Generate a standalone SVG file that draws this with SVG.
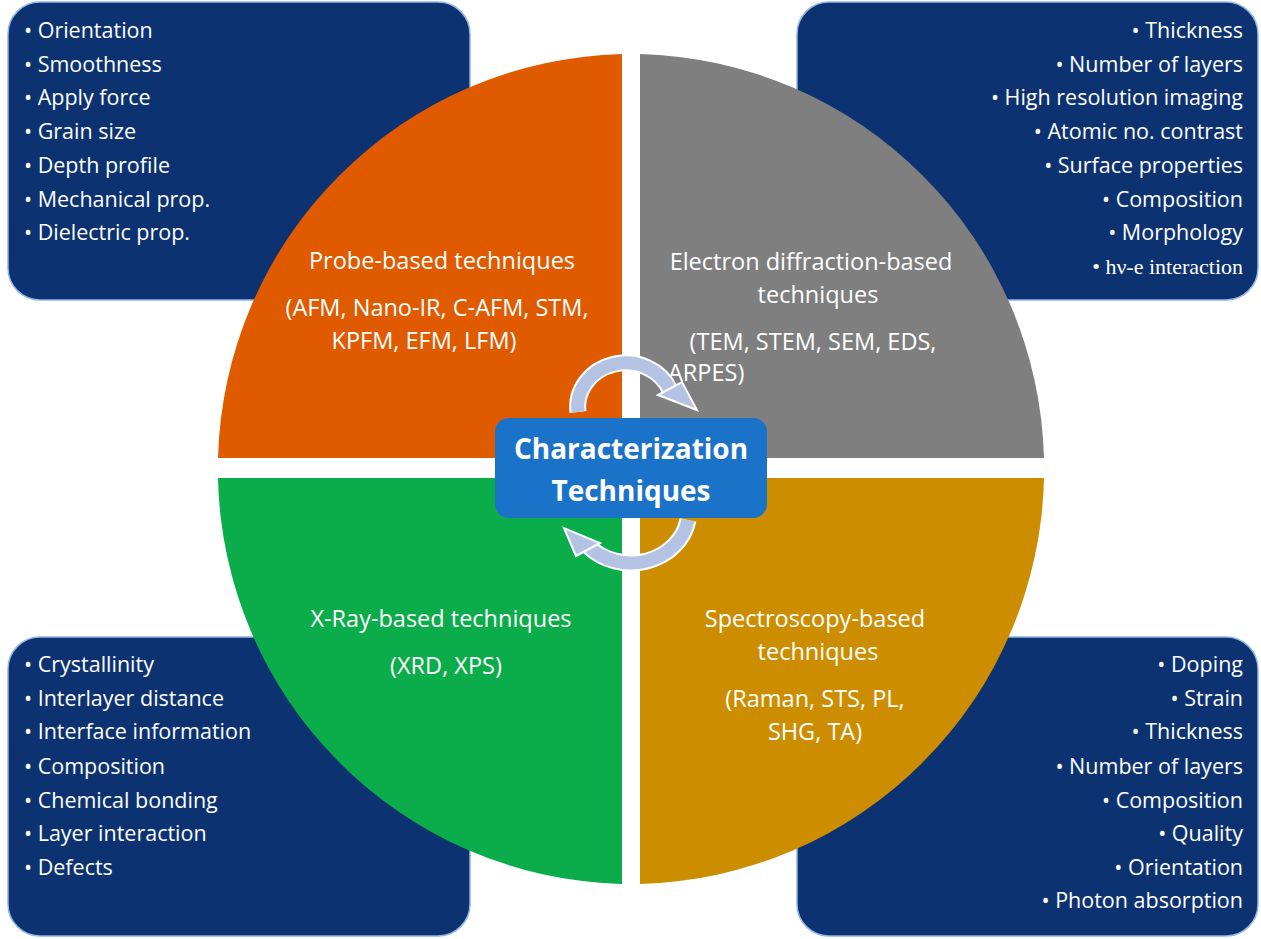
<svg xmlns="http://www.w3.org/2000/svg" width="1261" height="939" viewBox="0 0 1261 939">
<style>
.box{fill:#0d3272;stroke:#8fb4e6;stroke-width:1.5}
.bt{font-family:"Open Sans","Liberation Sans",sans-serif;font-size:21.5px;fill:#fff}
.qt{font-family:"Open Sans","Liberation Sans",sans-serif;font-size:23.5px;fill:#fff;text-anchor:middle}
.arc{fill:none;stroke:#b4c3e3;stroke-width:13}
.arco{fill:none;stroke:#fff;stroke-width:17}
.head{fill:#b4c3e3;stroke:#fff;stroke-width:2}
</style>
<rect width="1261" height="939" fill="#fff"/>
<g id="box-tl"><rect class="box" x="8" y="2" width="462" height="298" rx="32"/>
<text class="bt" x="24" y="38">• Orientation</text><text class="bt" x="24" y="72">• Smoothness</text><text class="bt" x="24" y="105">• Apply force</text><text class="bt" x="24" y="139">• Grain size</text><text class="bt" x="24" y="173">• Depth profile</text><text class="bt" x="24" y="207">• Mechanical prop.</text><text class="bt" x="24" y="240">• Dielectric prop.</text></g>
<g id="box-tr"><rect class="box" x="797" y="2" width="461" height="298" rx="32"/>
<g text-anchor="end"><text class="bt" x="1243" y="38">• Thickness</text><text class="bt" x="1243" y="72">• Number of layers</text><text class="bt" x="1243" y="105">• High resolution imaging</text><text class="bt" x="1243" y="139">• Atomic no. contrast</text><text class="bt" x="1243" y="173">• Surface properties</text><text class="bt" x="1243" y="207">• Composition</text><text class="bt" x="1243" y="240">• Morphology</text><text class="bt" x="1243" y="274" style="font-family:'Liberation Serif',serif;font-size:22px">• hν-e interaction</text></g></g>
<g id="box-bl"><rect class="box" x="8" y="637" width="462" height="299" rx="32"/>
<text class="bt" x="24" y="672">• Crystallinity</text><text class="bt" x="24" y="706">• Interlayer distance</text><text class="bt" x="24" y="739">• Interface information</text><text class="bt" x="24" y="774">• Composition</text><text class="bt" x="24" y="808">• Chemical bonding</text><text class="bt" x="24" y="841">• Layer interaction</text><text class="bt" x="24" y="875">• Defects</text></g>
<g id="box-br"><rect class="box" x="797" y="637" width="461" height="299" rx="32"/>
<g text-anchor="end"><text class="bt" x="1243" y="672">• Doping</text><text class="bt" x="1243" y="706">• Strain</text><text class="bt" x="1243" y="739">• Thickness</text><text class="bt" x="1243" y="774">• Number of layers</text><text class="bt" x="1243" y="808">• Composition</text><text class="bt" x="1243" y="841">• Quality</text><text class="bt" x="1243" y="875">• Orientation</text><text class="bt" x="1243" y="908">• Photon absorption</text></g></g>
<g id="q-probe"><path d="M622,54 A415,415 0 0 0 218,458 L622,458 Z" fill="#e05a00"/>
<text class="qt" x="442" y="269">Probe-based techniques</text><text class="qt" x="437" y="316">(AFM, Nano-IR, C-AFM, STM,</text><text class="qt" x="424" y="349">KPFM, EFM, LFM)</text></g>
<g id="q-electron"><path d="M640,54 A415,415 0 0 1 1044,458 L640,458 Z" fill="#7f7f7f"/>
<text class="qt" x="811" y="270">Electron diffraction-based</text><text class="qt" x="818" y="303">techniques</text><text class="qt" x="813" y="350">(TEM, STEM, SEM, EDS,</text><text class="qt" x="668" y="381" style="text-anchor:start">ARPES)</text></g>
<g id="q-xray"><path d="M622,478 L218,478 A415,415 0 0 0 622,884 Z" fill="#0aad4a"/>
<text class="qt" x="441" y="627">X-Ray-based techniques</text><text class="qt" x="446" y="674">(XRD, XPS)</text></g>
<g id="q-spectro"><path d="M640,478 L1044,478 A415,415 0 0 1 640,884 Z" fill="#cc8e00"/>
<text class="qt" x="815" y="627">Spectroscopy-based</text><text class="qt" x="818" y="660">techniques</text><text class="qt" x="815" y="707">(Raman, STS, PL,</text><text class="qt" x="815" y="740">SHG, TA)</text></g>
<g id="connectors">
<path class="arco" d="M578,412 A48,44 0 0 1 670,390"/><path class="arc" d="M578,412 A48,44 0 0 1 670,390"/>
<path class="head" d="M658,395 L682,382 L697,410 Z"/>
<path class="arco" d="M688,520 A58,52 0 0 1 588,546"/><path class="arc" d="M688,520 A58,52 0 0 1 588,546"/>
<path class="head" d="M600,543 L576,556 L564,528 Z"/>
</g>
<g id="center"><rect x="495" y="418" width="272" height="100" rx="14" fill="#1b72c9"/>
<text x="631" y="459" text-anchor="middle" font-family="'Open Sans','Liberation Sans',sans-serif" font-size="28" font-weight="bold" fill="#fff">Characterization</text>
<text x="631" y="501" text-anchor="middle" font-family="'Open Sans','Liberation Sans',sans-serif" font-size="28" font-weight="bold" fill="#fff">Techniques</text></g>
</svg>
